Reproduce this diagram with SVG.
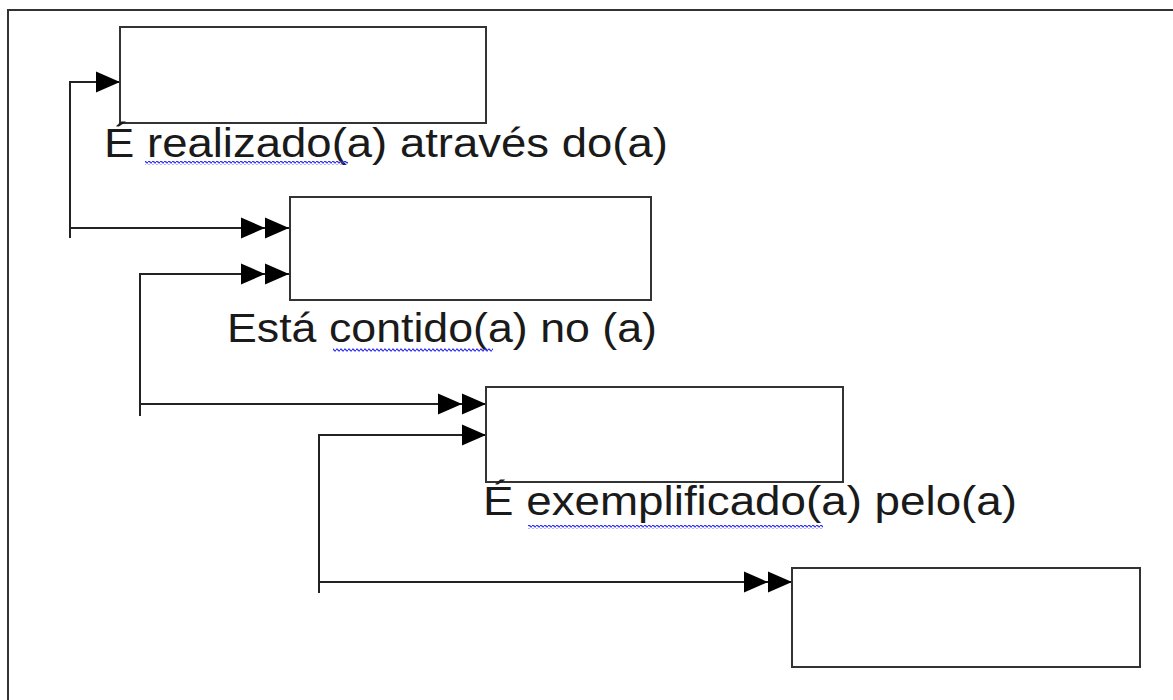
<svg xmlns="http://www.w3.org/2000/svg" xmlns:xlink="http://www.w3.org/1999/xlink" width="1173" height="700" viewBox="0 0 1173 700">
  <style>
    .frame { fill: none; stroke: #333; stroke-width: 2; }
    .box { fill: #fff; stroke: #333; stroke-width: 2; }
    .line { fill: none; stroke: #222; stroke-width: 2; }
    .lbl { font-family: "Liberation Sans", Arial, sans-serif; font-size: 41px; fill: #1a1a1a; }
    .squig { fill: url(#squig); }
  </style>
  <defs>
    <polygon id="ah" points="0,-10.5 24,0 0,10.5" fill="#000"/>
    <pattern id="squig" patternUnits="userSpaceOnUse" x="0" y="0" width="4" height="4">
      <path d="M0,2 Q1,0.2 2,2 T4,2" fill="none" stroke="#2f2ff0" stroke-width="1.4"/>
    </pattern>
  </defs>
  <rect width="1173" height="700" fill="#fff"/>
  <rect class="frame" x="8" y="10" width="1200" height="720"/>

  <g id="connectors">
    <polyline class="line" points="120,82 70,82 70,238"/>
    <line class="line" x1="70" y1="228" x2="289" y2="228"/>
    <use xlink:href="#ah" x="96" y="82"/>
    <use xlink:href="#ah" x="241" y="228"/>
    <use xlink:href="#ah" x="265" y="228"/>

    <polyline class="line" points="289,274 140,274 140,416"/>
    <use xlink:href="#ah" x="241" y="274"/>
    <use xlink:href="#ah" x="265" y="274"/>
    <line class="line" x1="140" y1="404" x2="486" y2="404"/>
    <use xlink:href="#ah" x="438" y="404"/>
    <use xlink:href="#ah" x="462" y="404"/>

    <polyline class="line" points="486,435 319,435 319,593"/>
    <use xlink:href="#ah" x="462" y="435"/>
    <line class="line" x1="319" y1="582" x2="792" y2="582"/>
    <use xlink:href="#ah" x="744" y="582"/>
    <use xlink:href="#ah" x="768" y="582"/>
  </g>

  <g id="node1">
    <rect class="box" x="120" y="27" width="366" height="96"/>
  </g>
  <g id="label1">
    <text class="lbl" x="104" y="157" textLength="564" lengthAdjust="spacingAndGlyphs">É realizado(a) através do(a)</text>
    <rect class="squig" x="145" y="161" width="203" height="4"/>
  </g>

  <g id="node2">
    <rect class="box" x="290" y="197" width="361" height="103"/>
  </g>
  <g id="label2">
    <text class="lbl" x="227" y="342" textLength="430" lengthAdjust="spacingAndGlyphs">Está contido(a) no (a)</text>
    <rect class="squig" x="333" y="348" width="160" height="4"/>
  </g>

  <g id="node3">
    <rect class="box" x="486" y="387" width="357" height="95"/>
  </g>
  <g id="label3">
    <text class="lbl" x="483" y="515" textLength="534" lengthAdjust="spacingAndGlyphs">É exemplificado(a) pelo(a)</text>
    <rect class="squig" x="528" y="525" width="295" height="4"/>
  </g>

  <g id="node4">
    <rect class="box" x="792" y="568" width="348" height="99"/>
  </g>
</svg>
